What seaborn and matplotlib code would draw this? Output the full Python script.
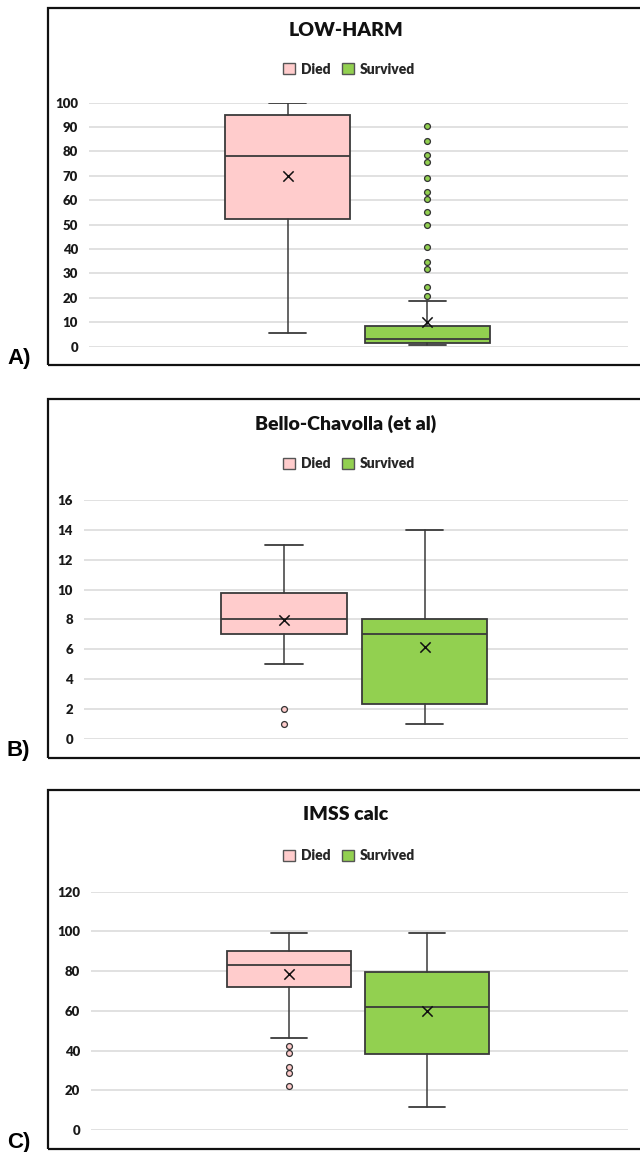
import matplotlib
matplotlib.use("Agg")
import matplotlib.pyplot as plt
from matplotlib.patches import Rectangle, Patch
import seaborn as sns
import pandas as pd

# ---------------- data ----------------
groups = ["Died", "Survived"]
titles = ["LOW-HARM", "Bello-Chavolla (et al)", "IMSS calc"]
panel_labels = ["A)", "B)", "C)"]

lowharm_whislo = [5.7, 0.7]
lowharm_q1 = [52.3, 1.4]
lowharm_med = [78.3, 3.3]
lowharm_q3 = [95.1, 8.6]
lowharm_whishi = [100.0, 18.9]
lowharm_mean = [69.9, 10.0]
lowharm_out_died = []
lowharm_out_surv = [90.6, 84.2, 78.4, 75.7, 69.0, 63.5, 60.5, 55.2, 49.7,
                    41.0, 34.7, 32.0, 24.6, 20.6]
lowharm_ticks = [0, 10, 20, 30, 40, 50, 60, 70, 80, 90, 100]

bello_whislo = [5.0, 1.0]
bello_q1 = [7.0, 2.3]
bello_med = [8.0, 7.0]
bello_q3 = [9.75, 8.0]
bello_whishi = [13.0, 14.0]
bello_mean = [7.95, 6.17]
bello_out_died = [2.0, 1.0]
bello_out_surv = []
bello_ticks = [0, 2, 4, 6, 8, 10, 12, 14, 16]

imss_whislo = [46.2, 11.7]
imss_q1 = [72.0, 38.4]
imss_med = [83.1, 61.9]
imss_q3 = [90.3, 79.6]
imss_whishi = [99.0, 99.0]
imss_mean = [78.5, 60.1]
imss_out_died = [42.1, 38.9, 31.7, 28.5, 22.0]
imss_out_surv = []
imss_ticks = [0, 20, 40, 60, 80, 100, 120]

panels = [
    dict(whislo=lowharm_whislo, q1=lowharm_q1, med=lowharm_med, q3=lowharm_q3,
         whishi=lowharm_whishi, mean=lowharm_mean,
         out=[lowharm_out_died, lowharm_out_surv], ticks=lowharm_ticks),
    dict(whislo=bello_whislo, q1=bello_q1, med=bello_med, q3=bello_q3,
         whishi=bello_whishi, mean=bello_mean,
         out=[bello_out_died, bello_out_surv], ticks=bello_ticks),
    dict(whislo=imss_whislo, q1=imss_q1, med=imss_med, q3=imss_q3,
         whishi=imss_whishi, mean=imss_mean,
         out=[imss_out_died, imss_out_surv], ticks=imss_ticks),
]

# ---------------- layout (pixels) ----------------
W, H = 640, 1152
layout = [
    dict(ax=(89, 102.7, 628, 346.7), cx=(287.8, 427.3), frame=(48, 7.5, 645, 364.5),
         title_y=30, legend_y=69, label_y=364),
    dict(ax=(84, 500, 628, 738.7), cx=(284, 424.5), frame=(48, 399, 645, 758),
         title_y=424, legend_y=464, label_y=756),
    dict(ax=(91.4, 891.7, 628, 1130), cx=(289, 427), frame=(48, 790, 645, 1149),
         title_y=814, legend_y=856, label_y=1148),
]

colors = ["#FFCCCC", "#92D050"]
edge = "#3a3a3a"

sns.set_theme(style="white")
plt.rcParams["font.family"] = ["Lato", "DejaVu Sans"]

fig = plt.figure(figsize=(W / 100, H / 100), dpi=100)
fig.patch.set_facecolor("white")


def fx(x):
    return x / W


def fy(y):
    return 1 - y / H


for p, L, title, plabel in zip(panels, layout, titles, panel_labels):
    l, t, r, b = L["ax"]
    ax = fig.add_axes([fx(l), fy(b), (r - l) / W, (b - t) / H])
    c0, c1 = L["cx"]
    unit = c1 - c0
    ax.set_xlim((l - c0) / unit, (r - c0) / unit)
    ax.set_ylim(p["ticks"][0], p["ticks"][-1])

    stats = []
    for i in range(2):
        stats.append(dict(med=p["med"][i], q1=p["q1"][i], q3=p["q3"][i],
                          whislo=p["whislo"][i], whishi=p["whishi"][i],
                          mean=p["mean"][i], fliers=[]))
    bp = ax.bxp(stats, positions=[0, 1], widths=0.895, capwidths=0.265,
                patch_artist=True, showfliers=False, showmeans=False,
                boxprops=dict(edgecolor=edge, linewidth=1.3),
                whiskerprops=dict(color=edge, linewidth=1.1),
                capprops=dict(color=edge, linewidth=1.3),
                medianprops=dict(color=edge, linewidth=1.3), zorder=3)
    for patch, c in zip(bp["boxes"], colors):
        patch.set_facecolor(c)

    # means
    mdf = pd.DataFrame({"x": [0, 1], "y": p["mean"]})
    sns.scatterplot(data=mdf, x="x", y="y", marker="x", s=55, color="#111111",
                    linewidth=1.1, ax=ax, zorder=5, legend=False)

    # outliers
    for i in range(2):
        if p["out"][i]:
            odf = pd.DataFrame({"x": [i] * len(p["out"][i]), "y": p["out"][i]})
            sns.scatterplot(data=odf, x="x", y="y", marker="o", s=18,
                            color=colors[i], edgecolor="#333333", linewidth=0.9,
                            ax=ax, zorder=5, legend=False)

    ax.set_yticks(p["ticks"])
    ax.set_yticklabels([str(v) for v in p["ticks"]], fontsize=9.5,
                       fontweight="heavy", color="#1a1a1a")
    ax.set_xticks([])
    ax.set_xlabel("")
    ax.set_ylabel("")
    ax.tick_params(axis="y", length=0, pad=8)
    ax.yaxis.grid(True, color="#d9d9d9", linewidth=1.1, zorder=0)
    ax.set_axisbelow(True)
    for s in ax.spines.values():
        s.set_visible(False)
    ax.patch.set_alpha(0)

    # frame
    fl, ft, fr, fb = L["frame"]
    fig.add_artist(Rectangle((fx(fl), fy(fb)), (fr - fl) / W, (fb - ft) / H,
                             transform=fig.transFigure, fill=False,
                             edgecolor="#111111", linewidth=1.6, clip_on=False))

    # title
    fig.text(fx(346), fy(L["title_y"]), title, ha="center", va="center",
             fontsize=14, fontweight="heavy", color="#111111")

    # legend
    handles = [Patch(facecolor=colors[i], edgecolor="#555555", linewidth=1.0,
                     label=groups[i]) for i in range(2)]
    fig.legend(handles=handles, loc="center", ncol=2, frameon=False,
               bbox_to_anchor=(fx(349), fy(L["legend_y"])),
               prop=dict(family=["Lato", "DejaVu Sans"], weight="heavy", size=10),
               handlelength=0.9, handleheight=0.9, handletextpad=0.4,
               columnspacing=0.8, labelcolor="#262626")

    # panel label
    fig.text(fx(7), fy(L["label_y"]), plabel, ha="left", va="baseline",
             fontsize=16, fontweight="bold", color="black",
             family=["Liberation Sans", "DejaVu Sans"])

fig.savefig("out.png", dpi=100, facecolor="white")
